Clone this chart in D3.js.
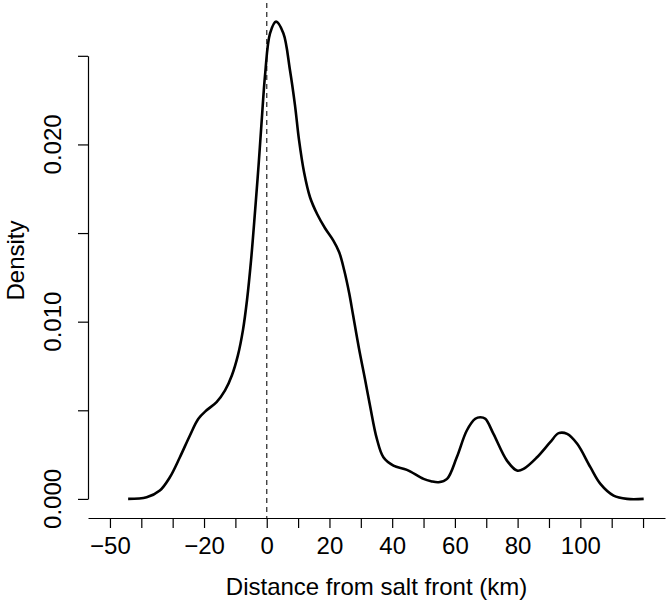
<!DOCTYPE html>
<html>
<head>
<meta charset="utf-8">
<script src="https://cdn.jsdelivr.net/npm/d3@7"></script>
<style>
  html, body { margin: 0; padding: 0; background: #fff; }
  svg { display: block; font-family: "Liberation Sans", Arial, Helvetica, sans-serif; }
</style>
</head>
<body>
<svg id="chart" width="672" height="606"></svg>
<script>
// Density estimate (x in km, y = density)
const densityX = [-44.2, -38.3, -34.1, -30.9, -27.7, -24.5, -21.8, -19.2, -16.0, -13.3, -11.1,
  -9.2, -7.6, -6.3, -5.0, -3.7, -2.6, -1.6, -0.5, 1.05, 2.97, 5.3, 7.4, 9.0, 10.3, 11.9, 13.8,
  16.1, 18.6, 21.2, 23.1, 24.7, 26.3, 27.5, 29.4, 31.4, 33.0, 35.1, 37.2, 40.4, 44.7, 50.0,
  52.4, 54.8, 57.5, 60.6, 63.8, 66.5, 68.1, 69.7, 72.3, 76.6, 79.8, 81.9, 86.2, 90.4, 93.1,
  95.8, 99.0, 103.2, 106.4, 110.6, 114.9, 120.2];
const densityY = [0.0, 0.00009, 0.00047, 0.00122, 0.00235, 0.00358, 0.00452, 0.00500, 0.00546,
  0.00612, 0.00698, 0.00810, 0.00951, 0.01121, 0.01347, 0.01629, 0.01884, 0.02137, 0.02400,
  0.02627, 0.02693, 0.02627, 0.0242, 0.02222, 0.02024, 0.01843, 0.01702, 0.01606, 0.01527,
  0.01459, 0.01392, 0.0129, 0.0116, 0.0104, 0.0085, 0.0067, 0.0052, 0.0034, 0.00235,
  0.00188, 0.00164, 0.00113, 0.00100, 0.00094, 0.00113, 0.00235, 0.00386, 0.00452, 0.00461,
  0.00452, 0.00367, 0.00216, 0.0016, 0.00169, 0.00235, 0.0032, 0.00371, 0.00367, 0.00311,
  0.00179, 0.00085, 0.00019, 0.0, 0.0];

const xTicks = [-50, -40, -30, -20, -10, 0, 10, 20, 30, 40, 50, 60, 70, 80, 90, 100, 110, 120];
const xTickLabels = [-50, -20, 0, 20, 40, 60, 80, 100];
const yTicks = [0, 0.005, 0.010, 0.015, 0.020, 0.025];
const yTickLabels = [0, 0.010, 0.020];
const refLineX = [0];
const xTitle = "Distance from salt front (km)";
const yTitle = "Density";

(function () {
const svg = d3.select("#chart");
const fontSize = 24;

// plot region
const pLeft = 88, pRight = 665, pTop = 3, pBottom = 518;
const x = d3.scaleLinear().domain([-57, 127]).range([pLeft, pRight]);
const y = d3.scaleLinear().domain([-0.001077, 0.02798]).range([pBottom, pTop]);

const fmtMinus = v => (v < 0 ? "\u2212" + Math.abs(v) : String(v));

// X axis
const xAxis = d3.axisBottom(x)
  .tickValues(xTicks)
  .tickSize(10)
  .tickSizeOuter(0)
  .tickPadding(9)
  .tickFormat(v => xTickLabels.includes(v) ? fmtMinus(v) : "");
const gx = svg.append("g").attr("transform", `translate(0,${pBottom})`).call(xAxis);
gx.select(".domain").attr("stroke", "#000").attr("stroke-width", 1.2);
gx.selectAll(".tick line").attr("stroke", "#000").attr("stroke-width", 1.2);
gx.selectAll(".tick text").attr("font-size", fontSize).attr("fill", "#000")
  .attr("font-family", "Liberation Sans, Arial, sans-serif");

// Y axis (line from 0 to 0.025)
const yAxisScale = d3.scaleLinear().domain([0, 0.025]).range([y(0), y(0.025)]);
const yAxis = d3.axisLeft(yAxisScale)
  .tickValues(yTicks)
  .tickSize(10)
  .tickSizeOuter(0)
  .tickFormat("");
const gy = svg.append("g").attr("transform", `translate(${pLeft},0)`).call(yAxis);
gy.select(".domain").attr("stroke", "#000").attr("stroke-width", 1.2);
gy.selectAll(".tick line").attr("stroke", "#000").attr("stroke-width", 1.2);

// Rotated y tick labels
svg.append("g").selectAll("text")
  .data(yTickLabels)
  .join("text")
  .attr("transform", d => `translate(61,${y(d)}) rotate(-90)`)
  .attr("text-anchor", "middle")
  .attr("font-size", fontSize)
  .attr("fill", "#000")
  .text(d => d3.format(".3f")(d));

// Titles
svg.append("text")
  .attr("x", (pLeft + pRight) / 2)
  .attr("y", 595)
  .attr("text-anchor", "middle")
  .attr("font-size", fontSize)
  .attr("fill", "#000")
  .text(xTitle);

svg.append("text")
  .attr("transform", `translate(23.5,${(pTop + pBottom) / 2}) rotate(-90)`)
  .attr("text-anchor", "middle")
  .attr("font-size", fontSize)
  .attr("fill", "#000")
  .text(yTitle);

// Dashed reference line at 0
svg.append("g").selectAll("line")
  .data(refLineX)
  .join("line")
  .attr("x1", d => x(d)).attr("x2", d => x(d))
  .attr("y1", pTop).attr("y2", pBottom)
  .attr("stroke", "#333")
  .attr("stroke-width", 1.3)
  .attr("stroke-dasharray", "5,4");

// Density curve
const pts = densityX.map((d, i) => [d, densityY[i]]);
const line = d3.line()
  .x(d => x(d[0]))
  .y(d => y(d[1]))
  .curve(d3.curveCatmullRom.alpha(0.5));
svg.append("path")
  .datum(pts)
  .attr("d", line)
  .attr("fill", "none")
  .attr("stroke", "#000")
  .attr("stroke-width", 2.6)
  .attr("stroke-linejoin", "round");
})();
</script>
</body>
</html>
